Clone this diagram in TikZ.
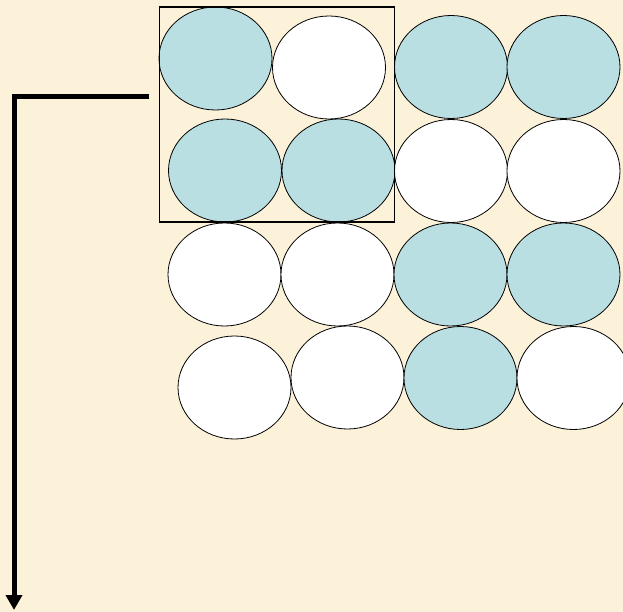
\documentclass[tikz,border=0pt]{standalone}
\usetikzlibrary{shapes.geometric,arrows.meta}
\definecolor{bgcream}{RGB}{252,241,217}
\definecolor{ballblue}{RGB}{185,223,227}
\begin{document}
\begin{tikzpicture}[x=1pt,y=-1pt,
  atom/.style={ellipse,draw=black,line width=0.8pt,minimum width=113pt,minimum height=103pt,inner sep=0pt,outer sep=0pt},
  filledatom/.style={atom,fill=ballblue},
  emptyatom/.style={atom,fill=white}]
\fill[bgcream] (0,0) rectangle (623,612);
\useasboundingbox (0,0) rectangle (623,612);
\clip (0,0) rectangle (623,612);
% row 1
\node[filledatom] (a11) at (215.5,58.5) {};
\node[emptyatom]  (a12) at (329,67.5) {};
\node[filledatom] (a13) at (451,67) {};
\node[filledatom] (a14) at (563.5,67) {};
% row 2
\node[filledatom] (a21) at (225,170.5) {};
\node[filledatom] (a22) at (338.5,170.5) {};
\node[emptyatom]  (a23) at (451,171) {};
\node[emptyatom]  (a24) at (563.5,171) {};
% row 3
\node[emptyatom]  (a31) at (224.5,274.5) {};
\node[emptyatom]  (a32) at (337.5,274.5) {};
\node[filledatom] (a33) at (450.5,274.5) {};
\node[filledatom] (a34) at (563.5,274.5) {};
% row 4
\node[emptyatom]  (a41) at (234.5,387.5) {};
\node[emptyatom]  (a42) at (347.5,377.5) {};
\node[filledatom] (a43) at (460.5,378) {};
\node[emptyatom]  (a44) at (573.5,378) {};
% unit cell
\node[draw=black,line width=1.5pt,minimum width=235pt,minimum height=215pt,inner sep=0pt,outer sep=0pt,anchor=north west] (cell) at (159.5,7) {};
% arrow
\coordinate (start) at (149,97);
\coordinate (corner) at (14,97);
\coordinate (tip) at (14,610);
\draw[line width=5pt,-{Triangle[width=16pt,length=15pt]}] (start) -- (corner) -- (tip);
\end{tikzpicture}
\end{document}
